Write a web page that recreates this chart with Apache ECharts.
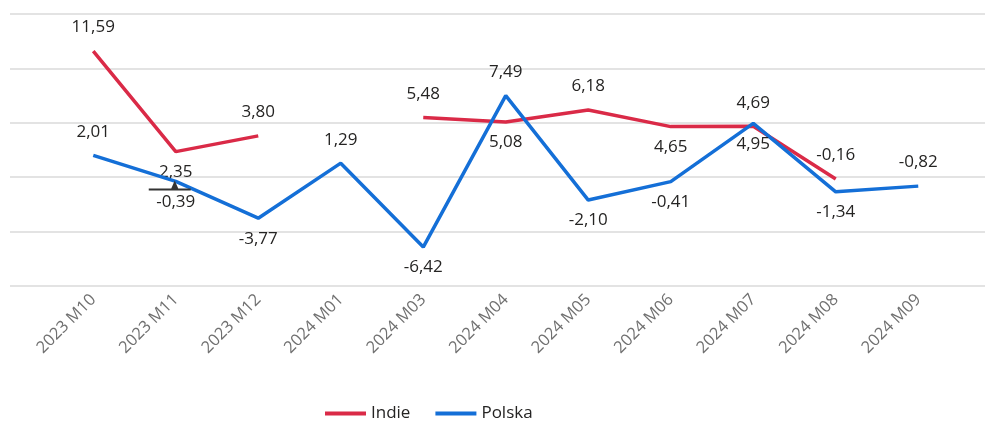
<!DOCTYPE html>
<html>
<head>
<meta charset="utf-8">
<script src="https://cdn.jsdelivr.net/npm/echarts@6/dist/echarts.min.js"></script>
<style>
html,body{margin:0;padding:0;background:#fff;}
#c{width:985px;height:422px;}
</style>
</head>
<body>
<div id="c"></div>
<script>
var categories = ['2023 M10','2023 M11','2023 M12','2024 M01','2024 M03','2024 M04','2024 M05','2024 M06','2024 M07','2024 M08','2024 M09'];
var indie  = [11.59, 2.35, 3.80, null, 5.48, 5.08, 6.18, 4.65, 4.69, -0.16, null];
var polska = [2.01, -0.39, -3.77, 1.29, -6.42, 7.49, -2.10, -0.41, 4.95, -1.34, -0.82];
var indieLabelSide  = ['top','bottom','top','top','top','bottom','top','bottom','top','top','top'];
var polskaLabelSide = ['top','bottom','bottom','top','bottom','top','bottom','bottom','bottom','bottom','top'];
var yTicks = [-10, -5, 0, 5, 10, 15];

var FONT = '"Open Sans", "Noto Sans", sans-serif';
function fmt(v){ return v.toFixed(2).replace('.', ','); }
function build(vals, sides){
  return vals.map(function(v,i){
    if (v === null) return null;
    return {value: v, label: {position: sides[i], distance: sides[i]==='top'?15:12}};
  });
}
var chart = echarts.init(document.getElementById('c'));
var yMin = yTicks[0], yMax = yTicks[yTicks.length-1], yInt = yTicks[1]-yTicks[0];
var labelCommon = {show:true, formatter:function(p){return fmt(p.value);}, color:'#252423', fontSize:17, fontFamily:FONT};
chart.setOption({
  animation:false,
  grid:[
    {left:10, right:0, top:14, bottom:136},
    {left:52, width:907.5, top:14, bottom:136}
  ],
  xAxis:[
    {gridIndex:0, type:'category', data:categories, show:false},
    {gridIndex:1, type:'category', data:categories, boundaryGap:true,
     axisLine:{show:false}, axisTick:{show:false},
     axisLabel:{rotate:45, interval:0, margin:11, color:'#707070', fontSize:16.5, fontFamily:FONT}}
  ],
  yAxis:[
    {gridIndex:0, type:'value', min:yMin, max:yMax, interval:yInt,
     axisLabel:{show:false}, axisLine:{show:false}, axisTick:{show:false},
     splitLine:{show:true, lineStyle:{color:'#e3e3e3', width:2}}},
    {gridIndex:1, type:'value', min:yMin, max:yMax, interval:yInt,
     axisLabel:{show:false}, axisLine:{show:false}, axisTick:{show:false},
     splitLine:{show:false}}
  ],
  legend:{
    left:320, top:400, icon:'rect', itemWidth:41, itemHeight:4, itemGap:25,
    textStyle:{color:'#252423', fontSize:17, fontFamily:FONT},
    data:['Indie','Polska']
  },
  series:[
    {name:'Indie', type:'line', xAxisIndex:1, yAxisIndex:1,
     data:build(indie, indieLabelSide), connectNulls:false,
     symbol:'circle', symbolSize:0, showSymbol:true,
     lineStyle:{color:'#DA2A47', width:3.5}, itemStyle:{color:'#DA2A47'},
     label:labelCommon, z:3},
    {name:'Polska', type:'line', xAxisIndex:1, yAxisIndex:1,
     data:build(polska, polskaLabelSide),
     symbol:'circle', symbolSize:0, showSymbol:true,
     lineStyle:{color:'#146FD7', width:3.5}, itemStyle:{color:'#146FD7'},
     label:labelCommon, z:4,
     markPoint:{
       silent:true,
       data:[{coord:[categories[1], polska[1]],
              symbol:'path://M0,8L42,8L42,10L0,10Z M26,0L29.5,8L22.5,8Z',
              symbolSize:[42,10], symbolOffset:[-6,4],
              itemStyle:{color:'#333'}, label:{show:false}}]
     }}
  ]
});
</script>
</body>
</html>
